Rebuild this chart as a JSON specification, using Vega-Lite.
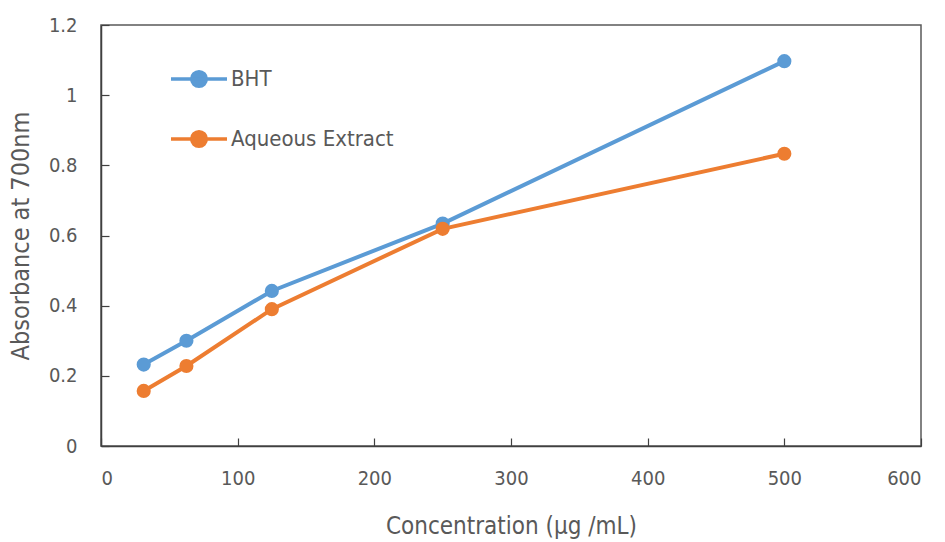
{
  "$schema": "https://vega.github.io/schema/vega-lite/v6.json",
  "autosize": "none",
  "width": 820,
  "height": 421,
  "padding": {"left": 101, "top": 25, "right": 24, "bottom": 96},
  "background": "white",
  "config": {
    "view": {"stroke": "#595959", "strokeWidth": 1.5},
    "font": "Liberation Sans Narrow, DejaVu Sans Condensed, sans-serif"
  },
  "data": {
    "values": [
      {"conc": 31.25, "abs": 0.232, "series": "BHT"},
      {"conc": 62.5, "abs": 0.300, "series": "BHT"},
      {"conc": 125, "abs": 0.442, "series": "BHT"},
      {"conc": 250, "abs": 0.634, "series": "BHT"},
      {"conc": 500, "abs": 1.097, "series": "BHT"},
      {"conc": 31.25, "abs": 0.157, "series": "Aqueous Extract"},
      {"conc": 62.5, "abs": 0.228, "series": "Aqueous Extract"},
      {"conc": 125, "abs": 0.390, "series": "Aqueous Extract"},
      {"conc": 250, "abs": 0.619, "series": "Aqueous Extract"},
      {"conc": 500, "abs": 0.833, "series": "Aqueous Extract"}
    ]
  },
  "encoding": {
    "x": {
      "field": "conc", "type": "quantitative",
      "scale": {"domain": [0, 600], "nice": false},
      "axis": {
        "values": [0, 100, 200, 300, 400, 500, 600],
        "grid": false, "domainColor": "#404040", "domainWidth": 1.5,
        "tickColor": "#404040", "tickSize": -8, "tickWidth": 1.2,
        "labelFontSize": 20, "labelColor": "#595959", "labelPadding": 30,
        "title": "Concentration (µg /mL)", "titleFontSize": 24, "titleFontWeight": "normal",
        "titleColor": "#595959", "titlePadding": 26
      }
    },
    "y": {
      "field": "abs", "type": "quantitative",
      "scale": {"domain": [0, 1.2], "nice": false},
      "axis": {
        "values": [0, 0.2, 0.4, 0.6, 0.8, 1, 1.2],
        "format": ".1~f",
        "grid": false, "domainColor": "#404040", "domainWidth": 1.5,
        "tickColor": "#404040", "tickSize": -8, "tickWidth": 1.2,
        "labelFontSize": 20, "labelColor": "#595959", "labelPadding": 32,
        "title": "Absorbance at 700nm", "titleFontSize": 25, "titleFontWeight": "normal",
        "titleColor": "#595959", "titlePadding": 15
      }
    },
    "color": {
      "field": "series", "type": "nominal",
      "scale": {"domain": ["BHT", "Aqueous Extract"], "range": ["#5B9BD5", "#ED7D31"]},
      "legend": {
        "title": null, "orient": "none", "legendX": 68, "legendY": 24,
        "symbolType": "M-1,0L1,0M-0.26,0A0.26,0.26,0,1,1,0.26,0A0.26,0.26,0,1,1,-0.26,0Z",
        "symbolSize": 3136, "symbolStrokeWidth": 3.5, "symbolOpacity": 1,
        "labelFontSize": 22, "labelColor": "#595959", "labelOffset": 2, "labelLimit": 400,
        "rowPadding": 15
      }
    }
  },
  "layer": [
    {"mark": {"type": "line", "strokeWidth": 4}},
    {"mark": {"type": "point", "filled": true, "size": 200, "opacity": 1}}
  ]
}
